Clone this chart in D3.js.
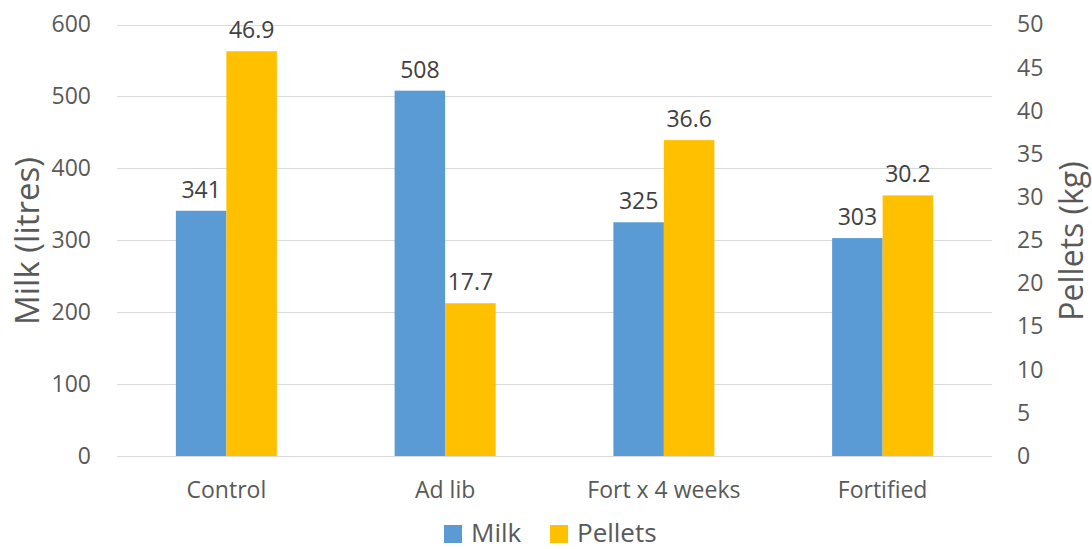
<!DOCTYPE html>
<html><head><meta charset="utf-8">
<script src="https://cdn.jsdelivr.net/npm/d3@7"></script>
<style>body{margin:0;background:#fff;} text{font-family:"Open Sans","Liberation Sans",sans-serif;}</style>
</head><body>
<svg id="c" width="1092" height="549"></svg>
<script>
const categories = ["Control", "Ad lib", "Fort x 4 weeks", "Fortified"];
const milk = [341, 508, 325, 303];
const pellets = [46.9, 17.7, 36.6, 30.2];
const milkTicks = [0, 100, 200, 300, 400, 500, 600];
const pelletTicks = [0, 5, 10, 15, 20, 25, 30, 35, 40, 45, 50];
const seriesNames = ["Milk", "Pellets"];
const colors = ["#5B9BD5", "#FFC000"];

(function () {
const svg = d3.select("#c");
const pL = 117, pR = 992, pT = 24.5, pB = 456;
const x = d3.scaleBand().domain(categories).range([pL, pR]);
const yL = d3.scaleLinear().domain([0, 600]).range([pB, pT]);
const yR = d3.scaleLinear().domain([0, 50]).range([pB, pT]);
const barW = 50.5;
const fs = 23;

// gridlines
svg.append("g").selectAll("line").data(milkTicks).join("line")
  .attr("x1", pL).attr("x2", pR)
  .attr("y1", d => Math.round(yL(d)) + 0.5).attr("y2", d => Math.round(yL(d)) + 0.5)
  .attr("stroke", "#d9d9d9").attr("stroke-width", 1);

// left axis
const gL = svg.append("g").attr("transform", `translate(${pL},0)`)
  .call(d3.axisLeft(yL).tickValues(milkTicks).tickSize(0).tickPadding(26));
gL.select(".domain").remove();
gL.selectAll("text").attr("font-size", fs).attr("fill", "#595959").attr("font-family", "Open Sans, sans-serif");

// right axis
const gR = svg.append("g").attr("transform", `translate(${pR},0)`)
  .call(d3.axisRight(yR).tickValues(pelletTicks).tickSize(0).tickPadding(25));
gR.select(".domain").remove();
gR.selectAll("text").attr("font-size", fs).attr("fill", "#595959").attr("font-family", "Open Sans, sans-serif");

// x axis
const gX = svg.append("g").attr("transform", `translate(0,${pB})`)
  .call(d3.axisBottom(x).tickSize(0).tickPadding(26));
gX.select(".domain").remove();
gX.selectAll("text").attr("font-size", fs).attr("fill", "#595959").attr("font-family", "Open Sans, sans-serif");

// bars
const cx = d => x(d) + x.bandwidth() / 2;
svg.append("g").selectAll("rect").data(categories).join("rect")
  .attr("x", d => cx(d) - barW).attr("width", barW)
  .attr("y", (d, i) => yL(milk[i])).attr("height", (d, i) => pB - yL(milk[i]))
  .attr("fill", colors[0]);
svg.append("g").selectAll("rect").data(categories).join("rect")
  .attr("x", d => cx(d)).attr("width", barW)
  .attr("y", (d, i) => yR(pellets[i])).attr("height", (d, i) => pB - yR(pellets[i]))
  .attr("fill", colors[1]);

// data labels
svg.append("g").selectAll("text").data(categories).join("text")
  .attr("x", d => cx(d) - barW / 2).attr("y", (d, i) => yL(milk[i]) - 13)
  .attr("text-anchor", "middle").attr("font-size", fs).attr("fill", "#404040")
  .text((d, i) => milk[i]);
svg.append("g").selectAll("text").data(categories).join("text")
  .attr("x", d => cx(d) + barW / 2).attr("y", (d, i) => yR(pellets[i]) - 13)
  .attr("text-anchor", "middle").attr("font-size", fs).attr("fill", "#404040")
  .text((d, i) => d3.format(".1f")(pellets[i]));

// axis titles
svg.append("text").attr("transform", "translate(39,241) rotate(-90)")
  .attr("text-anchor", "middle").attr("font-size", 33).attr("fill", "#595959")
  .text("Milk (litres)");
svg.append("text").attr("transform", "translate(1083,241) rotate(-90)")
  .attr("text-anchor", "middle").attr("font-size", 32).attr("fill", "#595959")
  .text("Pellets (kg)");

// legend
const legendX = [444, 550];
const lg = svg.append("g").selectAll("g").data(seriesNames).join("g")
  .attr("transform", (d, i) => `translate(${legendX[i]},525)`);
lg.append("rect").attr("width", 18).attr("height", 18).attr("fill", (d, i) => colors[i]);
lg.append("text").attr("x", 27).attr("y", 17).attr("font-size", 26).attr("fill", "#595959").text(d => d);
})();
</script>
</body></html>
